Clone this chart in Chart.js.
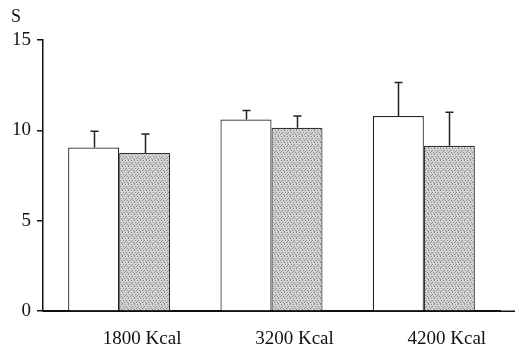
<!DOCTYPE html>
<html>
<head>
<meta charset="utf-8">
<script src="https://cdn.jsdelivr.net/npm/chart.js@4/dist/chart.umd.min.js"></script>
<style>
  html, body { margin: 0; padding: 0; background: #fff; }
  #wrap { width: 521px; height: 346px; }
</style>
</head>
<body>
<div id="wrap"><canvas id="myChart" width="521" height="346"></canvas></div>
<script>
const categories = ['1800 Kcal', '3200 Kcal', '4200 Kcal'];
const whiteValues = [9.05, 10.6, 10.8];
const whiteErrTop = [9.95, 11.1, 12.65];
const grayValues = [8.75, 10.15, 9.15];
const grayErrTop = [9.8, 10.8, 11.0];
const yTicks = [0, 5, 10, 15];

// stippled grey fill
function makeStipple() {
    const c = document.createElement('canvas');
    c.width = 6; c.height = 6;
    const g = c.getContext('2d');
    g.fillStyle = '#d2d2d2';
    g.fillRect(0, 0, 6, 6);
    g.fillStyle = '#8c8c8c';
    [[0, 0], [3, 0], [1, 2], [4, 2], [2, 4], [5, 4], [5, 1], [2, 3]].forEach(p => g.fillRect(p[0], p[1], 1, 1));
    return g.createPattern(c, 'repeat');
}

const serif = '"Liberation Serif", "DejaVu Serif", serif';

const errorBars = {
    id: 'errorBars',
    afterDatasetsDraw(chart) {
        const ctx = chart.ctx;
        const y = chart.scales.y;
        const tops = [whiteErrTop, grayErrTop];
        ctx.save();
        ctx.strokeStyle = '#222';
        ctx.lineWidth = 1.5;
        tops.forEach((arr, di) => {
            chart.getDatasetMeta(di).data.forEach((bar, i) => {
                const x = Math.round(bar.x) + 0.5;
                const yTop = y.getPixelForValue(arr[i]);
                ctx.beginPath();
                ctx.moveTo(x, bar.y);
                ctx.lineTo(x, yTop);
                ctx.moveTo(x - 4, yTop);
                ctx.lineTo(x + 4, yTop);
                ctx.stroke();
            });
        });
        ctx.restore();
    }
};

const extras = {
    id: 'extras',
    afterDraw(chart) {
        const ctx = chart.ctx;
        const area = chart.chartArea;
        const y0 = chart.scales.y.getPixelForValue(0);
        ctx.save();
        // extend x axis line to the right
        ctx.strokeStyle = '#111';
        ctx.lineWidth = 1.5;
        ctx.beginPath();
        ctx.moveTo(area.left, y0);
        ctx.lineTo(515, y0);
        ctx.stroke();
        // unit label
        ctx.fillStyle = '#111';
        ctx.font = '18px ' + serif;
        ctx.textAlign = 'left';
        ctx.textBaseline = 'middle';
        ctx.fillText('S', 11, 17);
        ctx.restore();
    }
};

const ctx = document.getElementById('myChart').getContext('2d');
const stipple = makeStipple();

let myChart = new Chart(ctx, {
    type: 'bar',
    data: {
        labels: categories,
        datasets: [{
            label: 'white',
            data: whiteValues,
            backgroundColor: '#ffffff',
            borderColor: '#222',
            borderWidth: 1.2,
            categoryPercentage: 0.67,
            barPercentage: 1.0
        }, {
            label: 'grey',
            data: grayValues,
            backgroundColor: stipple,
            borderColor: '#333',
            borderWidth: 1.2,
            categoryPercentage: 0.67,
            barPercentage: 1.0
        }]
    },
    options: {
        responsive: false,
        animation: false,
        layout: { padding: { left: 6, right: 21, top: 40, bottom: -20 } },
        plugins: {
            legend: { display: false },
            tooltip: { enabled: false }
        },
        scales: {
            x: {
                grid: { display: false, drawTicks: false },
                border: { display: true, color: '#111', width: 1.5 },
                ticks: {
                    color: '#111',
                    padding: 16,
                    labelOffset: 23,
                    font: { family: serif, size: 19 }
                }
            },
            y: {
                min: 0,
                max: 15,
                afterBuildTicks(axis) {
                    axis.ticks = yTicks.map(v => ({ value: v }));
                },
                grid: {
                    drawOnChartArea: false,
                    drawTicks: true,
                    tickLength: 6,
                    color: '#111',
                    lineWidth: 1.5
                },
                border: { display: true, color: '#111', width: 1.5 },
                ticks: {
                    color: '#111',
                    padding: 6,
                    font: { family: serif, size: 19 }
                }
            }
        }
    },
    plugins: [errorBars, extras]
});
</script>
</body>
</html>
